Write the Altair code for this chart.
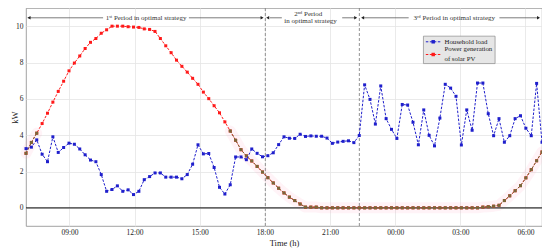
import altair as alt
import pandas as pd

# ---------------- data ----------------
household_load = [
    3.26, 3.34, 3.74, 2.95, 2.54, 3.91, 3.05, 3.32, 3.56, 3.50, 3.24, 2.92, 2.63, 2.54, 1.83, 0.91,
    1.01, 1.21, 0.91, 0.99, 0.73, 0.91, 1.55, 1.72, 1.92, 1.92, 1.69, 1.69, 1.69, 1.60, 1.83, 2.40,
    3.47, 2.97, 2.99, 2.22, 1.13, 0.76, 1.27, 2.80, 2.80, 2.65, 3.24, 3.00, 2.81, 2.87, 3.03, 3.48,
    3.91, 3.83, 3.82, 4.05, 3.93, 3.96, 3.94, 3.94, 3.84, 3.55, 3.62, 3.66, 3.69, 3.59, 3.98, 6.77,
    5.97, 4.61, 6.71, 4.91, 4.32, 3.82, 5.69, 5.66, 4.71, 3.47, 5.39, 3.99, 3.41, 4.94, 6.80, 6.59,
    6.14, 3.46, 5.39, 4.27, 6.87, 6.87, 5.18, 3.97, 4.91, 3.61, 3.97, 4.91, 5.07, 4.38, 3.97, 6.85,
    3.61,
]
solar_pv = [
    3.00, 3.60, 4.11, 4.64, 5.21, 5.82, 6.41, 6.97, 7.54, 7.97, 8.36, 8.77, 9.11, 9.32, 9.61, 9.80,
    10.00, 10.00, 10.00, 9.97, 9.95, 9.93, 9.85, 9.82, 9.71, 9.32, 8.92, 8.54, 8.13, 7.79, 7.47, 7.13,
    6.80, 6.37, 6.01, 5.62, 5.23, 4.73, 4.23, 3.72, 3.20, 2.86, 2.58, 2.28, 1.97, 1.66, 1.37, 1.08,
    0.82, 0.59, 0.40, 0.21, 0.04, 0.04, 0.04, 0.00, 0.00, 0.00, 0.00, 0.00, 0.00, 0.00, 0.00, 0.00,
    0.00, 0.00, 0.00, 0.00, 0.00, 0.00, 0.00, 0.00, 0.00, 0.00, 0.00, 0.00, 0.00, 0.00, 0.00, 0.00,
    0.00, 0.00, 0.00, 0.00, 0.00, 0.04, 0.06, 0.09, 0.14, 0.40, 0.66, 0.94, 1.22, 1.65, 2.10, 2.59,
    3.08,
]
tick_hours = [9, 12, 15, 18, 21, 24, 27, 30]
y_ticks = [0, 2, 4, 6, 8, 10]
period_boundaries = [18.02, 22.35]
start_hour = 7
span_hours = 23.76

# ---------------- tables ----------------
n = len(household_load)
time_h = [start_hour + i * span_hours / (n - 1) for i in range(n)]
df = pd.DataFrame({"t": time_h, "load": household_load, "pv": solar_pv})
df["seg"] = ["a" if i <= 2 else "b" for i in range(n)]
df_olive = df[[(i <= 2) or (i >= 38) for i in range(n)]]

FONT = "Liberation Serif"
BLUE = "#1f1fcc"
RED = "#ff1a1a"
OLIVE = "#77683a"
W, H = 516, 218

xs = alt.Scale(domain=[start_hour, start_hour + span_hours], nice=False, zero=False)
ys = alt.Scale(domain=[-1, 11], nice=False, zero=False)

x_axis = alt.Axis(
    values=tick_hours,
    labelExpr="(datum.value % 24 < 10 ? '0' : '') + (datum.value % 24) + ':00'",
    title="Time (h)", grid=True, gridColor="#e4e4e4", gridWidth=0.8,
    ticks=False, domain=False, labelFont=FONT, labelFontSize=7.5, labelColor="#222",
    labelPadding=2, titleFont=FONT, titleFontSize=8.5, titleFontWeight="normal",
    titleColor="#222", titlePadding=3,
)
y_axis = alt.Axis(
    values=y_ticks, title="kW", grid=True, gridColor="#e4e4e4", gridWidth=0.8,
    ticks=False, domain=False, labelFont=FONT, labelFontSize=7.5, labelColor="#222",
    labelPadding=3, titleFont=FONT, titleFontSize=8.5, titleFontWeight="normal",
    titleColor="#222", titleX=-12, titleY=H / 2, titleAngle=270,
    titleAlign="center", titleBaseline="middle",
)

def X(field):
    return alt.X(field, type="quantitative", scale=xs, axis=x_axis)

def Y(field):
    return alt.Y(field, type="quantitative", scale=ys, axis=y_axis)

# pink glow behind the olive portion
band = alt.Chart(df_olive).mark_line(
    color="#ff9fc0", opacity=0.12, strokeWidth=11, strokeCap="round", strokeJoin="round"
).encode(x=X("t"), y=Y("pv"), detail="seg:N")

zero_line = alt.Chart(pd.DataFrame({"v": [0]})).mark_rule(
    color="#333333", strokeWidth=1.2
).encode(y=Y("v"))

vlines = alt.Chart(pd.DataFrame({"t": period_boundaries})).mark_rule(
    color="#777777", strokeWidth=0.8, strokeDash=[3, 2]
).encode(x=X("t"))

pv_line = alt.Chart(df).mark_line(color=RED, strokeWidth=1, strokeDash=[2.5, 1.5]).encode(
    x=X("t"), y=Y("pv"))
pv_pts = alt.Chart(df).mark_point(shape="square", filled=True, size=9, color=RED, opacity=1).encode(
    x=X("t"), y=Y("pv"))
ol_line = alt.Chart(df_olive).mark_line(color=OLIVE, strokeWidth=1, strokeDash=[2.5, 1.5]).encode(
    x=X("t"), y=Y("pv"), detail="seg:N")
ol_pts = alt.Chart(df_olive).mark_point(shape="square", filled=True, size=9, color=OLIVE, opacity=1).encode(
    x=X("t"), y=Y("pv"))
ld_line = alt.Chart(df).mark_line(color=BLUE, strokeWidth=1, strokeDash=[2.5, 1.5]).encode(
    x=X("t"), y=Y("load"))
ld_pts = alt.Chart(df).mark_point(shape="square", filled=True, size=9, color=BLUE, opacity=1).encode(
    x=X("t"), y=Y("load"))

# ---------------- period annotations ----------------
ann_y = 10.46
seg_df = pd.DataFrame({
    "x": [7.08, 14.50, 18.22, 21.56, 22.54, 28.80],
    "x2": [10.55, 17.88, 18.78, 22.20, 24.62, 30.62],
    "y": [ann_y] * 6,
})
ann_segs = alt.Chart(seg_df).mark_rule(color="#444444", strokeWidth=0.7).encode(
    x=X("x"), x2="x2", y=Y("y"))

arrow_df = pd.DataFrame({
    "x": [7.14, 17.87, 18.13, 22.18, 22.50, 30.60],
    "y": [ann_y] * 6,
    "shape": ["triangle-left", "triangle-right", "triangle-left", "triangle-right",
              "triangle-left", "triangle-right"],
})
arrows = alt.Chart(arrow_df).mark_point(filled=True, size=12, color="#222222", opacity=1).encode(
    x=X("x"), y=Y("y"), shape=alt.Shape("shape:N", scale=None))

text_df = pd.DataFrame({
    "x": [12.53, 20.00, 20.10, 26.72],
    "y": [ann_y, 10.67, 10.27, ann_y],
    "txt": ["1ˢᵗ Period in optimal strategy", "2ⁿᵈ Period", "in optimal strategy",
            "3ʳᵈ Period in optimal strategy"],
})
ann_text = alt.Chart(text_df).mark_text(
    font=FONT, fontSize=7, color="#333333", align="center", baseline="middle"
).encode(x=X("x"), y=Y("y"), text="txt:N")

# ---------------- legend (drawn) ----------------
box = alt.Chart(pd.DataFrame({"x": [25.30], "x2": [28.60], "y": [9.45], "y2": [7.94]})).mark_rect(
    fill="#e6e6e6", stroke="#8a8a8a", strokeWidth=0.7
).encode(x=X("x"), x2="x2", y=Y("y"), y2="y2")

leg_df = pd.DataFrame({
    "x": [25.41, 25.41], "x2": [26.09, 26.09], "xm": [25.75, 25.75],
    "y": [9.14, 8.44], "c": [BLUE, RED],
})
leg_lines = alt.Chart(leg_df).mark_rule(strokeWidth=1, strokeDash=[2.5, 1.5]).encode(
    x=X("x"), x2="x2", y=Y("y"), color=alt.Color("c:N", scale=None))
leg_pts = alt.Chart(leg_df).mark_point(shape="square", filled=True, size=12, opacity=1).encode(
    x=X("xm"), y=Y("y"), color=alt.Color("c:N", scale=None))

leg_txt_df = pd.DataFrame({
    "x": [26.27, 26.27, 26.27],
    "y": [9.14, 8.72, 8.20],
    "txt": ["Household load", "Power generation", "of solar PV"],
})
leg_text = alt.Chart(leg_txt_df).mark_text(
    font=FONT, fontSize=6.8, color="#222222", align="left", baseline="middle"
).encode(x=X("x"), y=Y("y"), text="txt:N")

chart = alt.layer(
    band, zero_line, vlines, pv_line, pv_pts, ol_line, ol_pts, ld_line, ld_pts,
    ann_segs, arrows, ann_text, box, leg_lines, leg_pts, leg_text,
).properties(
    width=W, height=H,
    autosize=alt.AutoSizeParams(type="none"),
    padding={"left": 18, "top": 0, "right": 0, "bottom": 24},
).configure_view(stroke="#8c8c8c", strokeWidth=0.8)

chart.save("out.html", embed_options={"renderer": "svg", "actions": False})
